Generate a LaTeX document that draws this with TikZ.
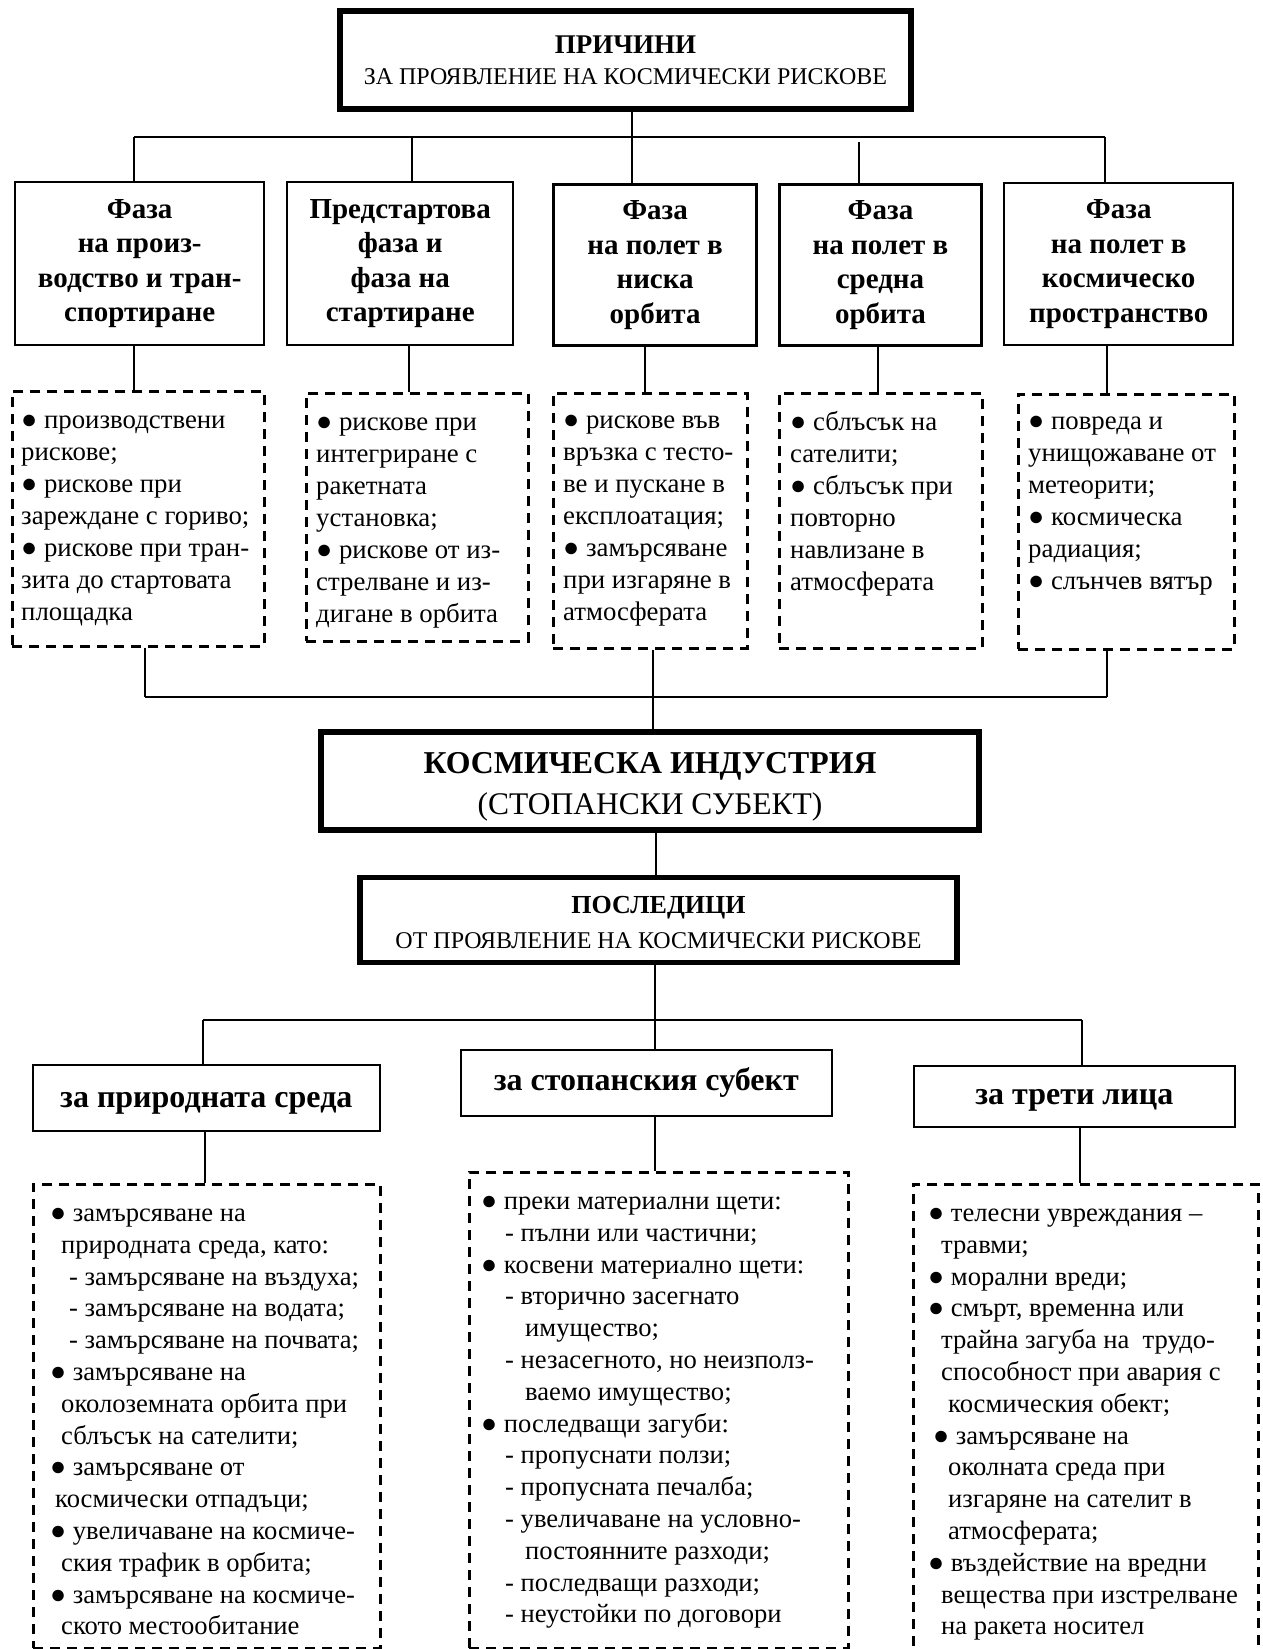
\documentclass[tikz,border=0pt]{standalone}
\usepackage{fontspec}
\setmainfont{Liberation Serif}
\newcommand{\blt}{●}
\newcommand{\lowered}[2]{\raisebox{-#1}[\height][\depth]{#2}}
\begin{document}
\begin{tikzpicture}[x=1pt,y=-1pt,
  conn/.style={line width=1.6pt},
  heavybox/.style={draw,line width=6pt,align=center,inner sep=0pt},
  phasebox/.style={draw,line width=2.4pt,anchor=north west,align=center,inner sep=0pt,
     font=\bfseries\fontsize{29}{34.5}\selectfont},
  dashbox/.style={draw,dash pattern=on 10pt off 7pt,line width=2.6pt,anchor=north west,inner sep=0pt},
  thinbox/.style={draw,line width=1.6pt,anchor=north west,align=center,inner sep=0pt,
     font=\bfseries\fontsize{32}{36}\selectfont},
  toptxt/.style={anchor=north west,align=left,inner sep=0pt,font=\fontsize{26.8}{32}\selectfont},
  bottxt/.style={anchor=north west,align=left,inner sep=0pt,font=\fontsize{26.6}{31.8}\selectfont},
]
\useasboundingbox (0,0) rectangle (1262,1649);

% ---------- top ----------
\node[heavybox,minimum width=571,minimum height=98] (top) at (625.5,60)
  {{\bfseries\fontsize{27}{27}\selectfont ПРИЧИНИ}\\[14pt]
   {\fontsize{24}{24}\selectfont ЗА ПРОЯВЛЕНИЕ НА КОСМИЧЕСКИ РИСКОВЕ}};

% phase boxes
\node[phasebox,minimum width=249,minimum height=163] (b1) at (14,181)
  {Фаза\\на произ-\\водство и тран-\\спортиране};
\node[phasebox,minimum width=226,minimum height=163] (b2) at (286,181)
  {Предстартова\\фаза и\\фаза на\\стартиране};
\node[phasebox,minimum width=203,minimum height=161,line width=3.2pt] (b3) at (552,183)
  {Фаза\\на полет в\\ниска\\орбита};
\node[phasebox,minimum width=202,minimum height=161,line width=3pt] (b4) at (778,183)
  {Фаза\\на полет в\\средна\\орбита};
\node[phasebox,minimum width=229,minimum height=162] (b5) at (1003,182)
  {Фаза\\на полет в\\космическо\\пространство};

% bus 1
\coordinate (j1) at (134,137);
\coordinate (j2) at (412,137);
\coordinate (j3) at (632,137);
\coordinate (j4g) at (859,142);
\coordinate (j5) at (1105,137);
\draw[conn] (j1) -- (j5);
\draw[conn] (top.south -| j3) -- (j3 |- b3.north);
\draw[conn] (j1) -- (j1 |- b1.north);
\draw[conn] (j2) -- (j2 |- b2.north);
\draw[conn] (j4g) -- (j4g |- b4.north);
\draw[conn] (j5) -- (j5 |- b5.north);

% dashed boxes (causes)
\node[dashbox,minimum width=252,minimum height=255] (d1) at (11,390) {};
\node[dashbox,minimum width=222,minimum height=248] (d2) at (305,392) {};
\node[dashbox,minimum width=194,minimum height=255] (d3) at (552,392) {};
\node[dashbox,minimum width=203,minimum height=255] (d4) at (778,392) {};
\node[dashbox,minimum width=216,minimum height=255] (d5) at (1017,393) {};

\coordinate (k1) at (134,0);
\coordinate (k2) at (409,0);
\coordinate (k3) at (645,0);
\coordinate (k4) at (878,0);
\coordinate (k5) at (1107,0);
\draw[conn] (b1.south -| k1) -- (d1.north -| k1);
\draw[conn] (b2.south -| k2) -- (d2.north -| k2);
\draw[conn] (b3.south -| k3) -- (d3.north -| k3);
\draw[conn] (b4.south -| k4) -- (d4.north -| k4);
\draw[conn] (b5.south -| k5) -- (d5.north -| k5);

\node[toptxt] (t1) at (21,406)
  {\strut\blt{} производствени\\рискове;\\\blt{} рискове при\\зареждане с гориво;\\\blt{} рискове при тран-\\зита до стартовата\\площадка};
\node[toptxt] (t2) at (316,408)
  {\strut\blt{} рискове при\\интегриране с\\ракетната\\установка;\\\blt{} рискове от из-\\стрелване и из-\\дигане в орбита};
\node[toptxt] (t3) at (563,406)
  {\strut\blt{} рискове във\\връзка с тесто-\\ве и пускане в\\експлоатация;\\\blt{} замърсяване\\при изгаряне в\\атмосферата};
\node[toptxt] (t4) at (790,408)
  {\strut\blt{} сблъсък на\\сателити;\\\blt{} сблъсък при\\повторно\\навлизане в\\атмосферата};
\node[toptxt] (t5) at (1028,407)
  {\strut\blt{} повреда и\\унищожаване от\\метеорити;\\\blt{} космическа\\радиация;\\\blt{} слънчев вятър};

% bus 2 and industry box
\node[heavybox,minimum width=658,minimum height=98] (ki) at (650,781)
  {\lowered{6pt}{\bfseries\fontsize{31.8}{31.8}\selectfont КОСМИЧЕСКА ИНДУСТРИЯ}\\[11pt]
   \lowered{6pt}{\fontsize{31.5}{31.5}\selectfont (СТОПАНСКИ СУБЕКТ)}};
\coordinate (m1) at (145,697);
\coordinate (m3) at (653,697);
\coordinate (m5) at (1107,697);
\draw[conn] (m1) -- (m5);
\draw[conn] (d1.south -| m1) -- (m1);
\draw[conn] (d5.south -| m5) -- (m5);
\draw[conn] (d3.south -| m3) -- (ki.north -| m3);

% consequences box
\node[heavybox,line width=5.5pt,minimum width=597,minimum height=85] (po) at (658.5,920)
  {\lowered{2.5pt}{\bfseries\fontsize{26}{26}\selectfont ПОСЛЕДИЦИ}\\[12pt]
   \lowered{2.5pt}{\fontsize{24}{24}\selectfont ОТ ПРОЯВЛЕНИЕ НА КОСМИЧЕСКИ РИСКОВЕ}};
\coordinate (q0) at (656,0);
\draw[conn] (ki.south -| q0) -- (po.north -| q0);

% bus 3
\coordinate (n1) at (203,1020);
\coordinate (n2) at (655,1020);
\coordinate (n3) at (1082,1020);
\draw[conn] (n1) -- (n3);
\draw[conn] (po.south -| n2) -- (n2);

\node[thinbox,minimum width=347,minimum height=66] (c1) at (32,1064) {\lowered{6pt}{за природната среда}};
\node[thinbox,minimum width=371,minimum height=66] (c2) at (460,1049) {за стопанския субект};
\node[thinbox,minimum width=321,minimum height=61] (c3) at (913,1065) {\lowered{4pt}{за трети лица}};
\draw[conn] (n1) -- (n1 |- c1.north);
\draw[conn] (n2) -- (n2 |- c2.north);
\draw[conn] (n3) -- (n3 |- c3.north);

% bottom dashed boxes
\node[dashbox,minimum width=347,minimum height=464] (e1) at (32,1183) {};
\node[dashbox,minimum width=379,minimum height=476] (e2) at (468,1171) {};
\node[dashbox,minimum width=345,minimum height=490] (e3) at (912,1183) {};
\coordinate (p1) at (205,0);
\coordinate (p2) at (655,0);
\coordinate (p3) at (1080,0);
\draw[conn] (c1.south -| p1) -- (e1.north -| p1);
\draw[conn] (c2.south -| p2) -- (e2.north -| p2);
\draw[conn] (c3.south -| p3) -- (e3.north -| p3);

\node[bottxt] (u1) at (50,1199)
  {\strut\blt{} замърсяване на\\
   \hspace*{11pt}природната среда, като:\\
   \hspace*{19pt}- замърсяване на въздуха;\\
   \hspace*{19pt}- замърсяване на водата;\\
   \hspace*{19pt}- замърсяване на почвата;\\
   \blt{} замърсяване на\\
   \hspace*{11pt}околоземната орбита при\\
   \hspace*{11pt}сблъсък на сателити;\\
   \blt{} замърсяване от\\
   \hspace*{5pt}космически отпадъци;\\
   \blt{} увеличаване на космиче-\\
   \hspace*{11pt}ския трафик в орбита;\\
   \blt{} замърсяване на космиче-\\
   \hspace*{11pt}ското местообитание};
\node[bottxt] (u2) at (481,1187)
  {\strut\blt{} преки материални щети:\\
   \hspace*{24pt}- пълни или частични;\\
   \blt{} косвени материално щети:\\
   \hspace*{24pt}- вторично засегнато\\
   \hspace*{44pt}имущество;\\
   \hspace*{24pt}- незасегното, но неизполз-\\
   \hspace*{44pt}ваемо имущество;\\
   \blt{} последващи загуби:\\
   \hspace*{24pt}- пропуснати ползи;\\
   \hspace*{24pt}- пропусната печалба;\\
   \hspace*{24pt}- увеличаване на условно-\\
   \hspace*{44pt}постоянните разходи;\\
   \hspace*{24pt}- последващи разходи;\\
   \hspace*{24pt}- неустойки по договори};
\node[bottxt] (u3) at (928,1199)
  {\strut\blt{} телесни увреждания –\\
   \hspace*{13pt}травми;\\
   \blt{} морални вреди;\\
   \blt{} смърт, временна или\\
   \hspace*{13pt}трайна загуба на\ \ трудо-\\
   \hspace*{13pt}способност при авария с\\
   \hspace*{20pt}космическия обект;\\
   \hspace*{5pt}\blt{} замърсяване на\\
   \hspace*{20pt}околната среда при\\
   \hspace*{20pt}изгаряне на сателит в\\
   \hspace*{20pt}атмосферата;\\
   \blt{} въздействие на вредни\\
   \hspace*{13pt}вещества при изстрелване\\
   \hspace*{13pt}на ракета носител};
\end{tikzpicture}
\end{document}
